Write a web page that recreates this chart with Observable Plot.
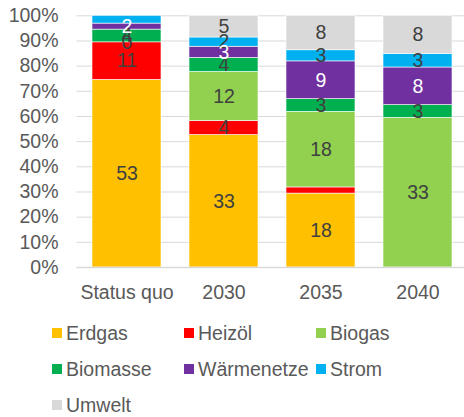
<!DOCTYPE html>
<html>
<head>
<meta charset="utf-8">
<script src="https://cdn.jsdelivr.net/npm/d3@7"></script>
<script src="https://cdn.jsdelivr.net/npm/@observablehq/plot@0.6"></script>
<style>
  html, body { margin: 0; padding: 0; background: #fff; }
  #wrap { position: relative; width: 464px; height: 417px; font-family: "Liberation Sans", Arial, sans-serif; }
  #legend { position: absolute; left: 52px; top: 315px; display: grid; grid-template-columns: 132px 132px 132px; grid-auto-rows: 36px; }
  .item { display: flex; align-items: center; font-size: 19.5px; color: #595959; white-space: nowrap; }
  .sw { width: 10px; height: 10px; margin-right: 4px; flex: none; }
</style>
</head>
<body>
<div id="wrap"><div id="chart"></div><div id="legend"></div></div>
<script>
const categories = ["Status quo", "2030", "2035", "2040"];
const seriesNames = ["Erdgas", "Heizöl", "Biogas", "Biomasse", "Wärmenetze", "Strom", "Umwelt"];
const seriesColors = ["#FFC000", "#FF0000", "#92D050", "#00B050", "#7030A0", "#00B0F0", "#D9D9D9"];
// values per series, in category order (null = empty cell)
const erdgas      = [53,   33,   18,   null];
const heizoel     = [10.6, 3.5,  1.5,  null];
const biogas      = [0,    12.2, 18.4, 33];
const biomasse    = [3.6,  3.5,  3.1,  2.8];
const waermenetze = [1.7,  2.8,  9.2,  8.3];
const strom       = [2.2,  2.3,  2.7,  3.0];
const umwelt      = [null, 5.4,  8.4,  8.4];
const hiddenLabels = [["Status quo", "Strom"], ["2035", "Heizöl"]];
const yTicks = [0, 10, 20, 30, 40, 50, 60, 70, 80, 90, 100];

const seriesValues = [erdgas, heizoel, biogas, biomasse, waermenetze, strom, umwelt];
const rows = [];
seriesNames.forEach((s, si) => {
  categories.forEach((c, ci) => {
    const v = seriesValues[si][ci];
    const hidden = hiddenLabels.some(h => h[0] === c && h[1] === s);
    rows.push({cat: c, series: s, value: v ?? 0, label: (v == null || hidden) ? null : String(Math.round(v))});
  });
});

const font = "19.5px";
const chart = Plot.plot({
  width: 464,
  height: 312,
  marginLeft: 76.5,
  marginRight: 0,
  marginTop: 15.3,
  marginBottom: 45,
  style: {fontFamily: "'Liberation Sans', Arial, sans-serif", fontSize: font, color: "#595959", background: "#fff"},
  x: {domain: categories, range: [90.7, 453.2], paddingInner: 0.29, paddingOuter: 0, label: null},
  y: {domain: [0, 1], range: [267, 15.3], label: null},
  color: {domain: seriesNames, range: seriesColors},
  marks: [
    Plot.ruleY(yTicks.map(t => t / 100), {stroke: "#D9D9D9", strokeWidth: 1}),
    Plot.barY(rows, Plot.stackY({offset: "normalize", x: "cat", y: "value", fill: "series", stroke: "white", strokeWidth: 0.6})),
    Plot.ruleY([0], {stroke: "#D9D9D9", strokeWidth: 1.5}),
    Plot.text(rows, Plot.stackY({offset: "normalize", x: "cat", y: "value",
      text: d => d.series !== "Wärmenetze" ? d.label : null, fill: "#404040", fontSize: font})),
    Plot.text(rows, Plot.stackY({offset: "normalize", x: "cat", y: "value",
      text: d => d.series === "Wärmenetze" ? d.label : null, fill: "white", fontSize: font})),
    Plot.axisY(yTicks.map(t => t / 100), {tickSize: 0, tickPadding: 18.5, tickFormat: d3.format(".0%"), fontSize: font, label: null}),
    Plot.axisX({tickSize: 0, tickPadding: 17.5, fontSize: font, label: null})
  ]
});
document.getElementById("chart").appendChild(chart);

const legend = document.getElementById("legend");
seriesNames.forEach((s, i) => {
  const it = document.createElement("div");
  it.className = "item";
  const sw = document.createElement("span");
  sw.className = "sw";
  sw.style.background = seriesColors[i];
  it.appendChild(sw);
  it.appendChild(document.createTextNode(s));
  legend.appendChild(it);
});
</script>
</body>
</html>
